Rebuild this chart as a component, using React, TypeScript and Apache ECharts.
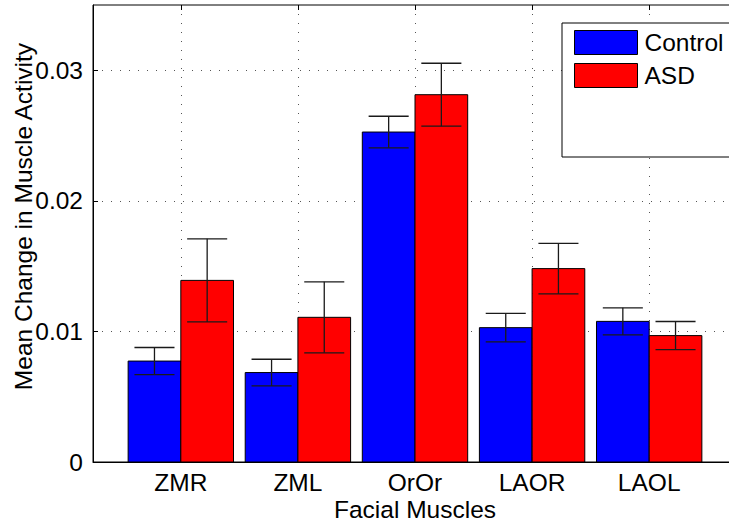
import React, { useEffect, useRef } from "react";
import * as echarts from "echarts";

const categories = ["ZMR", "ZML", "OrOr", "LAOR", "LAOL"];
const controlMeans = [0.00773, 0.00685, 0.02527, 0.01029, 0.01077];
const controlErrors = [0.00104, 0.00102, 0.00121, 0.00109, 0.00104];
const asdMeans = [0.01391, 0.01108, 0.02813, 0.01481, 0.00968];
const asdErrors = [0.00318, 0.00272, 0.00241, 0.00194, 0.00108];
const seriesNames = ["Control", "ASD"];
const seriesColors = ["#0000FF", "#FF0000"];
const yTicks = [0, 0.01, 0.02, 0.03];

const FONT = "'Liberation Sans', Arial, Helvetica, sans-serif";
const FS = 24.5;
const BAR_W = 0.45;
const CAP_HALF = 0.171;

function makeRender(offset: number) {
  return (params: any, api: any) => {
    const x = api.value(0);
    const y = api.value(1);
    const e = api.value(2);
    const left = x + offset;
    const pTop = api.coord([left, y]);
    const pBot = api.coord([left + BAR_W, 0]);
    const cx = left + BAR_W / 2;
    const pHi = api.coord([cx, y + e]);
    const pLo = api.coord([cx, y - e]);
    const capL = api.coord([cx - CAP_HALF, y])[0];
    const capR = api.coord([cx + CAP_HALF, y])[0];
    const lineStyle = { stroke: "#1a1a1a", lineWidth: 1.3 };
    return {
      type: "group",
      children: [
        {
          type: "rect",
          shape: {
            x: pTop[0],
            y: pTop[1],
            width: pBot[0] - pTop[0],
            height: pBot[1] - pTop[1],
          },
          style: { fill: api.visual("color"), stroke: "#000", lineWidth: 1 },
        },
        { type: "line", shape: { x1: pHi[0], y1: pHi[1], x2: pLo[0], y2: pLo[1] }, style: lineStyle },
        { type: "line", shape: { x1: capL, y1: pHi[1], x2: capR, y2: pHi[1] }, style: lineStyle },
        { type: "line", shape: { x1: capL, y1: pLo[1], x2: capR, y2: pLo[1] }, style: lineStyle },
      ],
    };
  };
}

export default function App() {
  const ref = useRef<HTMLDivElement>(null);
  useEffect(() => {
    if (!ref.current) return;
    const chart = echarts.init(ref.current, null, { renderer: "svg" });
    const tickVals = categories.map((_, i) => i + 1);
    const controlData = categories.map((_, i) => [i + 1, controlMeans[i], controlErrors[i]]);
    const asdData = categories.map((_, i) => [i + 1, asdMeans[i], asdErrors[i]]);
    chart.setOption({
      animation: false,
      backgroundColor: "#fff",
      grid: {
        left: 93,
        top: 5,
        width: 644,
        height: 457,
        show: true,
        borderColor: "#000",
        borderWidth: 1,
        backgroundColor: "transparent",
        containLabel: false,
        outerBoundsMode: "none",
      },
      legend: {
        data: seriesNames,
        orient: "vertical",
        left: 574,
        top: 30,
        padding: 0,
        itemWidth: 63,
        itemHeight: 24,
        itemGap: 8,
        icon: "rect",
        itemStyle: { borderColor: "#000", borderWidth: 1 },
        textStyle: { fontSize: FS, fontFamily: FONT, color: "#000", padding: [0, 0, 0, 2] },
        selectedMode: false,
        z: 10,
      },
      graphic: [
        {
          type: "rect",
          z: 5,
          shape: { x: 562, y: 23, width: 200, height: 134 },
          style: { fill: "#fff", stroke: "#000", lineWidth: 1 },
        },
      ],
      xAxis: [
        {
          type: "value",
          min: 0.25,
          max: 5.75,
          name: "Facial Muscles",
          nameLocation: "middle",
          nameGap: 35,
          nameMoveOverlap: false,
          nameTextStyle: { fontSize: FS, lineHeight: 24, fontFamily: FONT, color: "#000" },
          axisLine: { show: true, lineStyle: { color: "#000", width: 1 } },
          axisTick: { show: true, inside: true, length: 5, customValues: tickVals, lineStyle: { color: "#000" } },
          axisLabel: {
            customValues: tickVals,
            formatter: (v: number) => categories[Math.round(v) - 1] ?? "",
            fontSize: FS,
            fontFamily: FONT,
            color: "#000",
            margin: 8,
          },
          splitLine: { show: true, lineStyle: { color: "#555", type: [1, 8], width: 1 } },
        },
        {
          type: "value",
          position: "top",
          min: 0.25,
          max: 5.75,
          axisLine: { show: false },
          axisTick: { show: true, inside: true, length: 5, customValues: tickVals, lineStyle: { color: "#000" } },
          axisLabel: { show: false },
          splitLine: { show: false },
        },
      ],
      yAxis: {
        type: "value",
        min: 0,
        max: 0.035,
        interval: 0.01,
        name: "Mean Change in Muscle Activity",
        nameLocation: "middle",
        nameGap: 57,
        nameMoveOverlap: false,
        nameTextStyle: { fontSize: FS, lineHeight: 26, fontFamily: FONT, color: "#000", padding: [0, 0, 0, 34] },
        axisLine: { show: true, lineStyle: { color: "#000", width: 1 } },
        axisTick: { show: true, inside: true, length: 5, customValues: yTicks, lineStyle: { color: "#000" } },
        axisLabel: {
          customValues: yTicks,
          formatter: (v: number) => (v === 0 ? "0" : v.toFixed(2)),
          fontSize: FS,
          fontFamily: FONT,
          color: "#000",
          margin: 10,
        },
        splitLine: { show: true, lineStyle: { color: "#555", type: [1, 8], width: 1 } },
      },
      series: [
        {
          name: seriesNames[0],
          type: "custom",
          itemStyle: { color: seriesColors[0], borderColor: "#000", borderWidth: 1 },
          encode: { x: 0, y: 1 },
          renderItem: makeRender(-BAR_W),
          data: controlData,
          z: 2,
        },
        {
          name: seriesNames[1],
          type: "custom",
          itemStyle: { color: seriesColors[1], borderColor: "#000", borderWidth: 1 },
          encode: { x: 0, y: 1 },
          renderItem: makeRender(0),
          data: asdData,
          z: 2,
        },
      ],
    });
    return () => chart.dispose();
  }, []);
  return (
    <div
      ref={ref}
      style={{ position: "fixed", left: 0, top: 0, width: 729, height: 524 }}
    />
  );
}
